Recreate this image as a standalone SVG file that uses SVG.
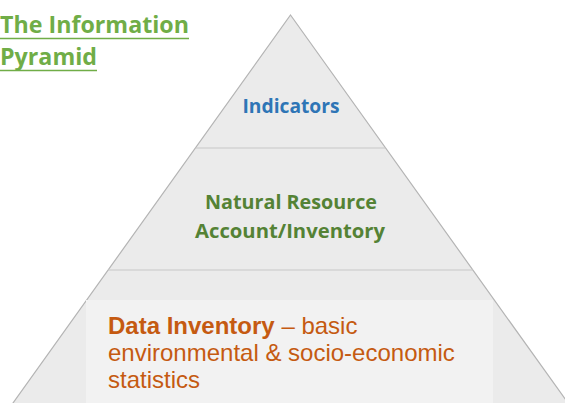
<svg xmlns="http://www.w3.org/2000/svg" width="565" height="403" viewBox="0 0 565 403">
<style>
.cal{font-family:"Open Sans","Noto Sans","Liberation Sans",sans-serif;font-weight:bold}
.ar{font-family:"Liberation Sans",Arial,sans-serif;font-size:24px;fill:#c55a11}
.div{stroke:#c8c8c8;stroke-width:1.2}
</style>
<rect width="565" height="403" fill="#ffffff"/>
<g id="title">
<text class="cal" x="0" y="33" font-size="23" fill="#70ad47" textLength="189" lengthAdjust="spacingAndGlyphs">The Information</text>
<line x1="0" y1="38.5" x2="189" y2="38.5" stroke="#70ad47" stroke-width="1.6"/>
<text class="cal" x="0" y="65" font-size="23" fill="#70ad47" textLength="97" lengthAdjust="spacingAndGlyphs">Pyramid</text>
<line x1="0" y1="70.5" x2="97" y2="70.5" stroke="#70ad47" stroke-width="1.6"/>
</g>
<g id="pyramid">
<polygon points="290.5,15 573,410 8,410" fill="#ebebeb" stroke="#b4b4b4" stroke-width="1.2"/>
</g>
<g id="connectors">
<line class="div" x1="195.5" y1="148" x2="385.5" y2="148"/>
<line class="div" x1="108" y1="270" x2="473" y2="270"/>
</g>
<g id="indicators">
<text class="cal" x="291" y="113" font-size="20" fill="#2e75b6" text-anchor="middle" textLength="97" lengthAdjust="spacingAndGlyphs">Indicators</text>
</g>
<g id="natural-resource">
<text class="cal" x="291" y="209" font-size="20" fill="#548235" text-anchor="middle" textLength="172" lengthAdjust="spacingAndGlyphs">Natural Resource</text>
<text class="cal" x="290" y="238" font-size="20" fill="#548235" text-anchor="middle" textLength="190" lengthAdjust="spacingAndGlyphs">Account/Inventory</text>
</g>
<g id="data-inventory">
<rect x="86" y="300" width="407" height="103" fill="#f2f2f2"/>
<text class="ar" x="108" y="334"><tspan font-weight="bold">Data Inventory</tspan> – basic</text>
<text class="ar" x="108" y="361">environmental &amp; socio-economic</text>
<text class="ar" x="108" y="388">statistics</text>
</g>
</svg>
